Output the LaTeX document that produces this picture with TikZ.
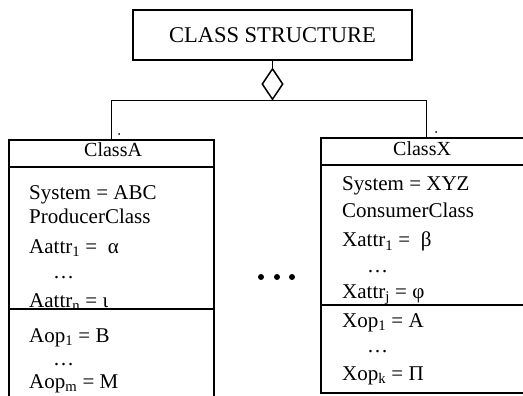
\documentclass[tikz,border=0pt]{standalone}
\usepackage{fontspec}
\setmainfont{Liberation Serif}
\usetikzlibrary{positioning,shapes.geometric}

\begin{document}
\begin{tikzpicture}[
    x=1pt, y=-1pt,
    font=\fontsize{21}{23}\selectfont,
    titlebox/.style={draw, line width=1.6pt, minimum width=279pt, minimum height=50pt, font=\fontsize{22.5}{24}\selectfont},
    agg/.style={draw, diamond, line width=1.5pt, inner sep=0pt, minimum width=21pt, minimum height=31pt},
    part/.style={draw, line width=1.7pt, outer sep=0pt, inner sep=0pt},
    head/.style={part, minimum height=27pt, font=\fontsize{20}{22}\selectfont},
    line/.style={anchor=base west, inner sep=0pt},
    link/.style={line width=1.5pt},
    node distance=0pt
  ]
  \useasboundingbox (0,0) rectangle (523,396);

  \node[titlebox] (struct) at (272.5,35) {CLASS STRUCTURE};
  \node[agg, below=7pt of struct] (agg) {};

  % left class
  \node[head, minimum width=205pt, anchor=north west] (headA) at (9,140) {};
  \node[part, minimum width=205pt, minimum height=142pt, below=of headA] (attsA) {};
  \node[part, minimum width=205pt, minimum height=100pt, below=of attsA] (opsA) {};
  \node[line] (nameA) at (84,157) {\fontsize{20}{22}\selectfont ClassA};
  \node[line] (sysA) at (29,200) {System = ABC};
  \node[line] (kindA) at (29,223) {ProducerClass};
  \node[line] (aattr1) at (29,253) {Aattr\textsubscript{1} = \ α};
  \node[line] (adots1) at (53,278) {\ldots};
  \node[line] (aattrn) at (29,307) {Aattr\textsubscript{n} = ι};
  \node[line] (aop1) at (29,342) {Aop\textsubscript{1} = B};
  \node[line] (adots2) at (53,365) {\ldots};
  \node[line] (aopm) at (29,388) {Aop\textsubscript{m} = M};

  % right class
  \node[head, minimum width=211pt, anchor=north west] (headX) at (321,138) {};
  \node[part, minimum width=211pt, minimum height=140pt, below=of headX] (attsX) {};
  \node[part, minimum width=211pt, minimum height=88pt, below=of attsX] (opsX) {};
  \node[line] (nameX) at (393,156) {\fontsize{20}{22}\selectfont ClassX};
  \node[line] (sysX) at (342,190) {System = XYZ};
  \node[line] (kindX) at (342,218) {ConsumerClass};
  \node[line] (xattr1) at (342,247) {Xattr\textsubscript{1} = \ β};
  \node[line] (xdots1) at (367,272) {\ldots};
  \node[line] (xattrj) at (342,298) {Xattr\textsubscript{j} = φ};
  \node[line] (xop1) at (342,327) {Xop\textsubscript{1} = A};
  \node[line] (xdots2) at (367,352) {\ldots};
  \node[line] (xopk) at (342,380) {Xop\textsubscript{k} = Π};

  \draw[link] (struct) -- (agg);
  \draw[link] (agg.south) -| (headA.north);
  \draw[link] (agg.south) -| (headX.north);

  \fill (119,134) circle (1pt);
  \fill (436,132) circle (1pt);
  \foreach \x in {261,277,292}
    \fill (\x,277) circle (3pt);
\end{tikzpicture}
\end{document}
